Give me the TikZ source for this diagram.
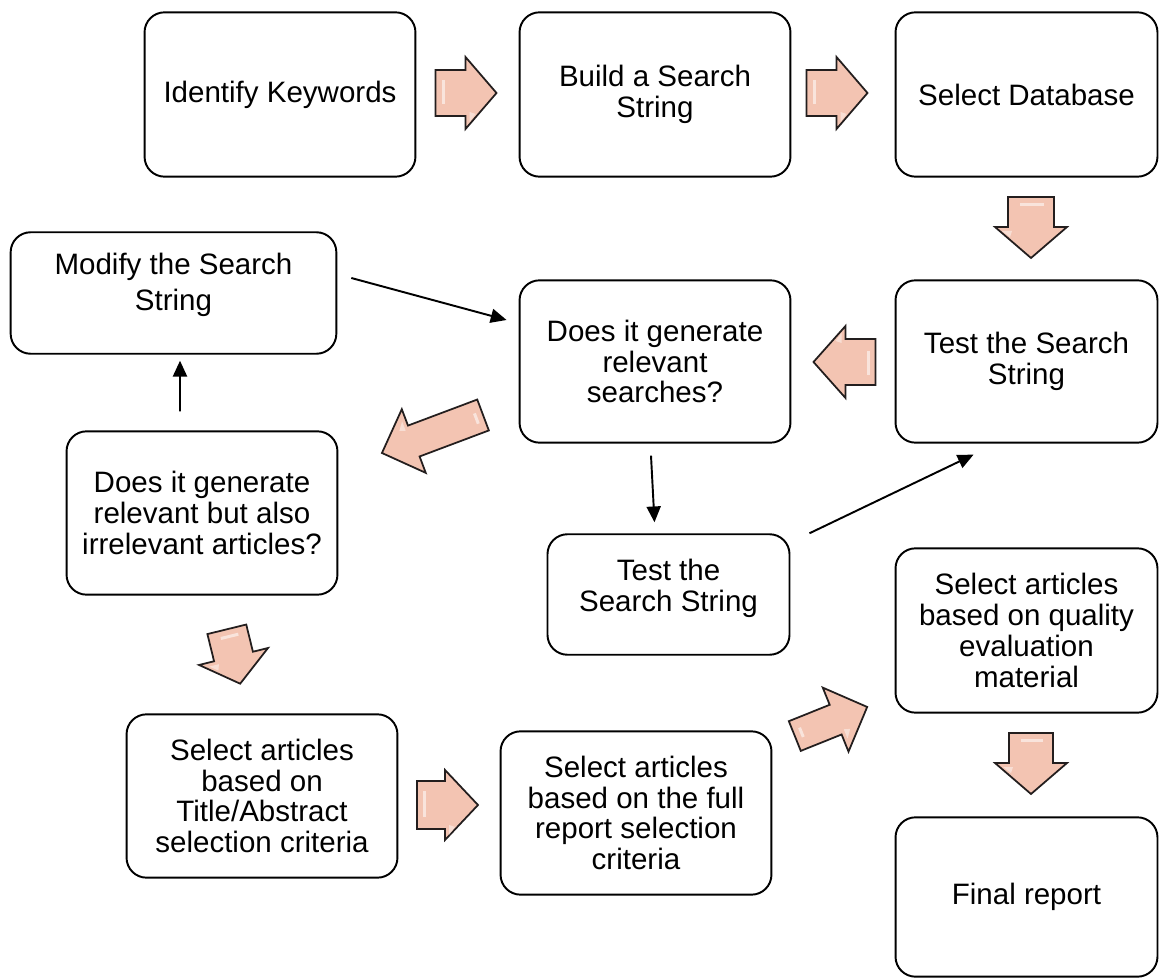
\documentclass[tikz,border=0pt]{standalone}
\usepackage{fontspec}
\setmainfont{Liberation Sans}
\usetikzlibrary{arrows.meta}
\definecolor{bafillc}{RGB}{243,196,178}
\definecolor{baline}{RGB}{35,30,30}
\tikzset{
  box/.style 2 args={draw=black, line width=1.1pt, rounded corners=0.4cm,
    minimum width=#1*0.5669pt, minimum height=#2*0.5669pt, inner sep=0pt,
    align=center, font=\fontsize{16.8}{17.5}\selectfont},
  txt/.style={inner sep=0pt, align=center, font=\fontsize{16.8}{17.5}\selectfont},
  conn/.style={line width=1.1pt, -{Triangle[length=9pt,width=8pt]}},
  bafill/.style={fill=bafillc, draw=baline, line width=1pt, line join=miter},
  pics/barrow/.style n args={4}{code={%
    \path[bafill] ({-#1/2},{-#2/2}) -- ({#1/2-#4},{-#2/2}) -- ({#1/2-#4},{-#3/2})
      -- ({#1/2},0) -- ({#1/2-#4},{#3/2}) -- ({#1/2-#4},{#2/2}) -- ({-#1/2},{#2/2}) -- cycle;
    \fill[white, opacity=0.55] ({-#1/2+6},{-#2/2+10}) rectangle ({-#1/2+9},{#2/2-12});
    \fill[white, opacity=0.45] ({#1/2-#4+4},{#2/2-4}) -- ({#1/2-#4+10},{#2/2-2}) -- ({#1/2-#4+4},{#2/2+6}) -- cycle;
  }}
}
\begin{document}
\begin{tikzpicture}[x=0.02cm,y=-0.02cm]
\useasboundingbox[fill=white] (0,0) rectangle (1160,979);

% boxes
\node[box={272}{165}] (b1) at (280,94.5) {Identify Keywords};
\node[box={272}{165}] (b2) at (655,94.5) {Build a Search\\String};
\node[box={263}{165}] (b3) at (1026.5,94.5) {Select Database};
\node[box={327}{122}] (b4) at (173.5,293) {};
\node[txt, font=\fontsize{16.8}{20.2}\selectfont] (b4t) at (173.5,285) {Modify the Search\\String};
\node[box={272}{163}] (b5) at (655,361.5) {Does it generate\\relevant\\searches?};
\node[box={263}{163}] (b6) at (1026.5,361.5) {Test the Search\\String};
\node[box={272}{164}] (b7) at (202,513) {Does it generate\\relevant but also\\irrelevant articles?};
\node[box={243}{121}] (b8) at (668.5,594.5) {};
\node[txt] (b8t) at (668.5,588) {Test the\\Search String};
\node[box={263}{165}] (b9) at (1026.5,630.5) {Select articles\\based on quality\\evaluation\\material};
\node[box={272}{164}] (b10) at (262,796) {Select articles\\based on\\Title/Abstract\\selection criteria};
\node[box={272}{164}] (b11) at (636,813) {Select articles\\based on the full\\report selection\\criteria};
\node[box={263}{160}] (b12) at (1026.5,897) {Final report};

% block arrows
\pic at (466,93) {barrow={61}{46}{72}{31}};
\pic at (837,93) {barrow={61}{46}{72}{31}};
\pic[rotate=-90] at (1031,227.5) {barrow={61}{46}{72}{31}};
\pic[rotate=180] at (844.5,362) {barrow={62}{46}{72}{32}};
\pic[rotate=200.6] at (432.5,434) {barrow={108}{33}{68}{34}};
\pic[rotate=-76.2] at (233.5,656.5) {barrow={56}{40}{71}{28}};
\pic at (447.5,805) {barrow={61}{48}{70}{33}};
\pic[rotate=21.9] at (831,721.5) {barrow={78}{32}{69}{34}};
\pic[rotate=-90] at (1031,763.5) {barrow={61}{44}{72}{31}};

% connectors
\draw[conn] ([shift={(14,-15)}]b4.east) -- ([shift={(-12,-41.5)}]b5.west);
\draw[conn] ([shift={(-22,-19)}]b7.north) -- ([shift={(6.5,6)}]b4.south);
\draw[conn] ([shift={(-4,12)}]b5.south) -- ([shift={(-14,-11)}]b8.north);
\draw[conn] ([shift={(19,0)}]b8.north east) -- ([shift={(79,11)}]b6.south west);
\end{tikzpicture}
\end{document}
